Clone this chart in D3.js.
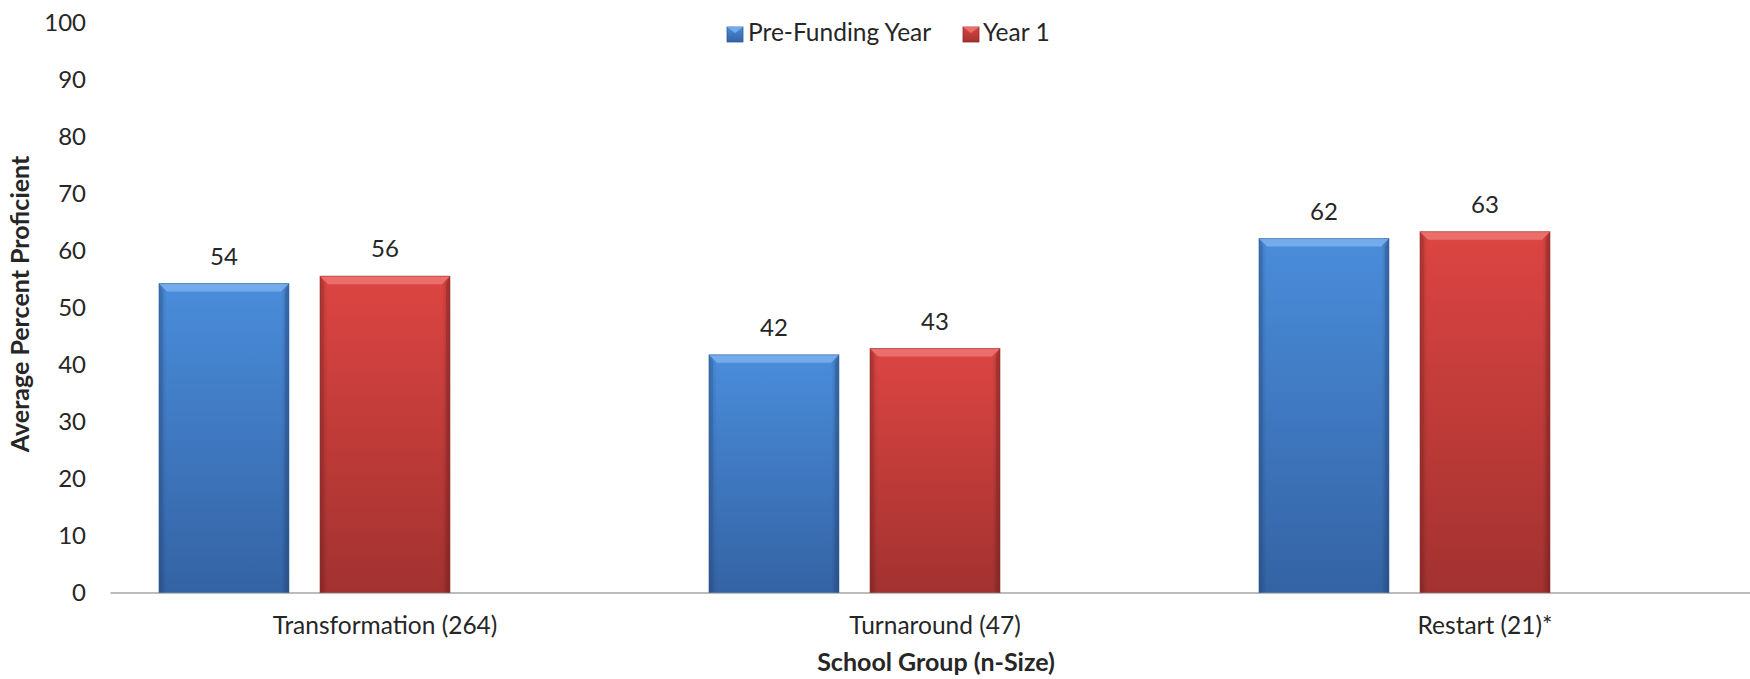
<!DOCTYPE html>
<html>
<head>
<meta charset="utf-8">
<script src="https://cdn.jsdelivr.net/npm/d3@7/dist/d3.min.js"></script>
<style>
  html, body { margin: 0; padding: 0; background: #ffffff; }
  svg { display: block; }
  text { font-family: Lato, "Open Sans", sans-serif; fill: #262626; }
</style>
</head>
<body>
<svg id="chart" width="1750" height="679"></svg>
<script>
// ---- data ----
const categories = ["Transformation (264)", "Turnaround (47)", "Restart (21)*"];
const seriesNames = ["Pre-Funding Year", "Year 1"];
const preFunding = [54.2, 41.7, 62.1];
const year1 = [55.5, 42.8, 63.3];
const yTicks = [0, 10, 20, 30, 40, 50, 60, 70, 80, 90, 100];
const xTitle = "School Group (n-Size)";
const yTitle = "Average Percent Proficient";

const seriesValues = [preFunding, year1];
const colors = [
  {top: "#4a8ddb", bottom: "#3463a4", light: "#74abeb", dark: "#2c5590", edge: "#2f5d99"},
  {top: "#dc4542", bottom: "#a23230", light: "#ec6e6b", dark: "#8a2826", edge: "#8f2a28"}
];

const svg = d3.select("#chart");
const mLeft = 110, mRight = 1760, mTop = 22.5, mBottom = 592.5;

const x0 = d3.scaleBand().domain(categories).range([mLeft, mRight]).paddingInner(0).paddingOuter(0);
// three slots per category (third slot empty, as in the original layout)
const slots = [0, 1, 2];
const x1 = d3.scaleBand().domain(slots)
  .range([x0.bandwidth() * 0.089, x0.bandwidth() * 0.911])
  .paddingInner(0.1925).paddingOuter(0);
const y = d3.scaleLinear().domain([0, 100]).range([mBottom, mTop]);

// gradients
const defs = svg.append("defs");
colors.forEach((c, i) => {
  const g = defs.append("linearGradient").attr("id", "grad" + i)
    .attr("x1", 0).attr("y1", 0).attr("x2", 0).attr("y2", 1);
  g.append("stop").attr("offset", "0%").attr("stop-color", c.top);
  g.append("stop").attr("offset", "100%").attr("stop-color", c.bottom);
  const gs = defs.append("linearGradient").attr("id", "side" + i)
    .attr("x1", 0).attr("y1", 0).attr("x2", 1).attr("y2", 0);
  gs.append("stop").attr("offset", "0%").attr("stop-color", "#000").attr("stop-opacity", 0.18);
  gs.append("stop").attr("offset", "6%").attr("stop-color", "#000").attr("stop-opacity", 0.0);
  gs.append("stop").attr("offset", "94%").attr("stop-color", "#000").attr("stop-opacity", 0.0);
  gs.append("stop").attr("offset", "100%").attr("stop-color", "#000").attr("stop-opacity", 0.22);
});

// y tick labels (no axis line)
const yAxis = d3.axisLeft(y).tickValues(yTicks).tickSize(0).tickPadding(0);
const yg = svg.append("g").attr("transform", `translate(86,0)`).call(yAxis);
yg.select(".domain").remove();
yg.selectAll("text").style("font-family", "Lato, sans-serif").style("font-size", "24px").attr("fill", "#262626");

// x axis
const xAxis = d3.axisBottom(x0).tickSize(0).tickPadding(0);
const xg = svg.append("g").attr("transform", `translate(0,${mBottom})`).call(xAxis);
xg.select(".domain").attr("stroke", "#a6a6a6").attr("stroke-width", 1.5);
xg.selectAll("text").attr("dy", null).attr("y", 41)
  .style("font-family", "Lato, sans-serif").style("font-size", "24.5px").attr("fill", "#262626");

// bars
const bev = 8;
seriesValues.forEach((vals, si) => {
  const c = colors[si];
  const g = svg.append("g");
  const bars = g.selectAll("g.bar").data(categories.map((cat, ci) => ({cat, v: vals[ci]})))
    .join("g").attr("class", "bar");
  bars.each(function(d) {
    const sel = d3.select(this);
    const bx = x0(d.cat) + x1(si), bw = x1.bandwidth();
    const by = y(d.v), bh = mBottom - y(d.v);
    sel.append("rect").attr("x", bx).attr("y", by).attr("width", bw).attr("height", bh)
      .attr("fill", `url(#grad${si})`);
    sel.append("rect").attr("x", bx).attr("y", by).attr("width", bw).attr("height", bh)
      .attr("fill", `url(#side${si})`);
    sel.append("path")
      .attr("d", `M${bx},${by} L${bx + bw},${by} L${bx + bw - bev},${by + bev} L${bx + bev},${by + bev} Z`)
      .attr("fill", c.light);
    sel.append("path")
      .attr("d", `M${bx},${by} L${bx + bev * 0.5},${by + bev} L${bx + bev * 0.5},${mBottom} L${bx},${mBottom} Z`)
      .attr("fill", c.dark).attr("opacity", 0.25);
    sel.append("path")
      .attr("d", `M${bx + bw},${by} L${bx + bw - bev * 0.5},${by + bev} L${bx + bw - bev * 0.5},${mBottom} L${bx + bw},${mBottom} Z`)
      .attr("fill", c.dark).attr("opacity", 0.4);
    sel.append("rect").attr("x", bx).attr("y", by).attr("width", bw).attr("height", bh)
      .attr("fill", "none").attr("stroke", c.edge).attr("stroke-opacity", 0.5).attr("stroke-width", 1);
    sel.append("text").attr("x", bx + bw / 2).attr("y", by - 19)
      .attr("text-anchor", "middle").style("font-size", "24px")
      .text(Math.round(d.v));
  });
});

// axis titles
svg.append("text").attr("x", 936).attr("y", 671).attr("text-anchor", "middle")
  .style("font-size", "25px").style("font-weight", "bold").attr("fill", "#0d0d0d").text(xTitle);
svg.append("text").attr("transform", "translate(29,304) rotate(-90)").attr("text-anchor", "middle")
  .style("font-size", "25px").style("font-weight", "bold").attr("fill", "#0d0d0d").text(yTitle);

// legend
const legendItems = [
  {name: seriesNames[0], sx: 727, tx: 748},
  {name: seriesNames[1], sx: 963, tx: 983}
];
legendItems.forEach((it, i) => {
  svg.append("rect").attr("x", it.sx).attr("y", 27).attr("width", 16).attr("height", 15)
    .attr("fill", `url(#grad${i})`).attr("stroke", colors[i].edge).attr("stroke-width", 0.8);
  svg.append("path")
    .attr("d", `M${it.sx},27 L${it.sx + 16},27 L${it.sx + 8},33 Z`).attr("fill", colors[i].light);
  svg.append("text").attr("x", it.tx).attr("y", 41).style("font-size", "24.5px").text(it.name);
});
</script>
</body>
</html>
